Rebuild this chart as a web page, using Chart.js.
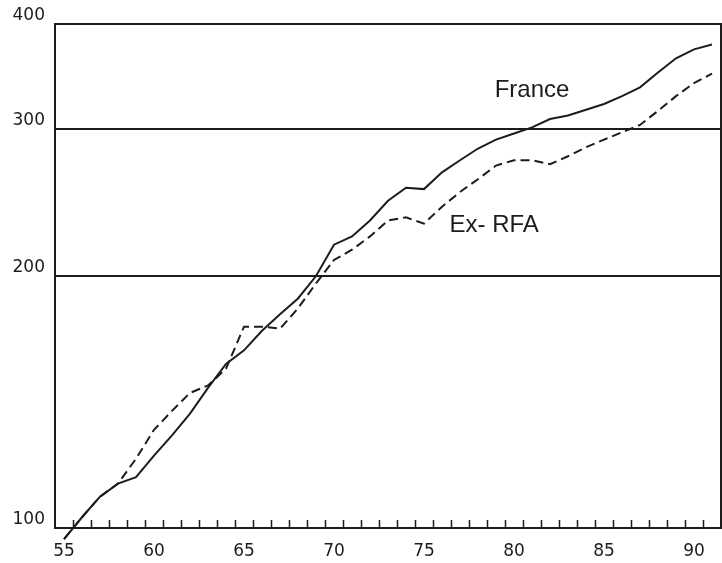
<!DOCTYPE html>
<html>
<head>
<meta charset="utf-8">
<script src="https://cdn.jsdelivr.net/npm/chart.js@4.4.1/dist/chart.umd.min.js"></script>
<style>
    body { margin: 0; background: #fff; }
    #wrap { width: 722px; height: 563px; position: relative; }
</style>
</head>
<body>
<div id="wrap"><canvas id="chart"></canvas></div>
<script>
const years = [55, 56, 57, 58, 59, 60, 61, 62, 63, 64, 65, 66, 67, 68, 69, 70, 71, 72, 73,
    74, 75, 76, 77, 78, 79, 80, 81, 82, 83, 84, 85, 86, 87, 88, 89, 90, 91];
const france = [97, 103, 109, 113, 115, 122, 129, 137, 147, 157, 163, 172, 180, 188, 200, 218, 223, 233, 246,
    255, 254, 266, 275, 284, 291, 296, 301, 308, 311, 316, 321, 328, 336, 350, 364, 373, 378];
const exRfa = [97, 103, 109, 113, 121, 131, 138, 145, 148, 155, 174, 174, 173, 183, 196, 209, 215, 223, 233,
    235, 231, 242, 252, 261, 271, 275, 275, 272, 278, 285, 291, 297, 303, 315, 328, 340, 349];
const xLabels = [55, 60, 65, 70, 75, 80, 85, 90];
const yLabels = [100, 200, 300, 400];
const seriesNames = ['France', 'Ex- RFA'];
const namePlaces = [[81, 333], [78.9, 230]];

const ink = '#1c1c1c';

function toPoints(values) {
    return values.map(function (v, i) {
        return { x: years[i], y: v };
    });
}

// box round the plot, small year ticks and the two series names
const framePlugin = {
    id: 'frame',
    afterDraw(chart) {
        const ctx = chart.ctx;
        const area = chart.chartArea;
        const xs = chart.scales.x;
        const ys = chart.scales.y;
        ctx.save();
        ctx.strokeStyle = ink;
        ctx.lineWidth = 2;
        ctx.strokeRect(area.left, area.top, area.right - area.left, area.bottom - area.top);

        ctx.lineWidth = 1.5;
        ctx.beginPath();
        for (let yr = years[0] + 0.5; yr < years[years.length - 1]; yr++) {
            const px = Math.round(xs.getPixelForValue(yr)) + 0.5;
            ctx.moveTo(px, area.bottom);
            ctx.lineTo(px, area.bottom - 8);
        }
        ctx.stroke();

        ctx.fillStyle = ink;
        ctx.font = '24px "Liberation Sans", Arial, sans-serif';
        ctx.textAlign = 'center';
        ctx.textBaseline = 'middle';
        for (let i = 0; i < seriesNames.length; i++) {
            ctx.fillText(seriesNames[i], xs.getPixelForValue(namePlaces[i][0]), ys.getPixelForValue(namePlaces[i][1]));
        }
        ctx.restore();
    }
};

const data = {
    datasets: [{
        label: seriesNames[0],
        data: toPoints(france),
        borderColor: ink,
        borderWidth: 2,
        pointRadius: 0,
        tension: 0,
        clip: false
    }, {
        label: seriesNames[1],
        data: toPoints(exRfa),
        borderColor: ink,
        borderWidth: 2,
        borderDash: [9, 5],
        pointRadius: 0,
        tension: 0,
        clip: false
    }]
};

const tickFont = { family: '"DejaVu Sans", sans-serif', size: 17 };

new Chart(document.getElementById('chart').getContext('2d'), {
    type: 'line',
    data: data,
    plugins: [framePlugin],
    options: {
        responsive: true,
        maintainAspectRatio: false,
        animation: false,
        layout: { padding: { top: 24, right: 1, left: 0, bottom: 0 } },
        plugins: {
            legend: { display: false },
            tooltip: { enabled: false }
        },
        scales: {
            x: {
                type: 'linear',
                min: 54.5,
                max: 91.5,
                afterBuildTicks: function (scale) {
                    scale.ticks = xLabels.map(v => ({ value: v }));
                },
                afterFit: function (scale) { scale.height = 35; },
                grid: { display: false },
                border: { display: false },
                ticks: {
                    autoSkip: false,
                    maxRotation: 0,
                    padding: 5,
                    color: ink,
                    font: tickFont,
                    callback: v => String(v)
                }
            },
            y: {
                type: 'logarithmic',
                min: 100,
                max: 400,
                afterBuildTicks: function (scale) {
                    scale.ticks = yLabels.map(v => ({ value: v }));
                },
                afterFit: function (scale) { scale.width = 55; },
                grid: { color: ink, lineWidth: 2, drawTicks: false },
                border: { display: false },
                ticks: {
                    padding: 10,
                    labelOffset: -8,
                    color: ink,
                    font: tickFont,
                    callback: v => String(v)
                }
            }
        }
    }
});
</script>
</body>
</html>
